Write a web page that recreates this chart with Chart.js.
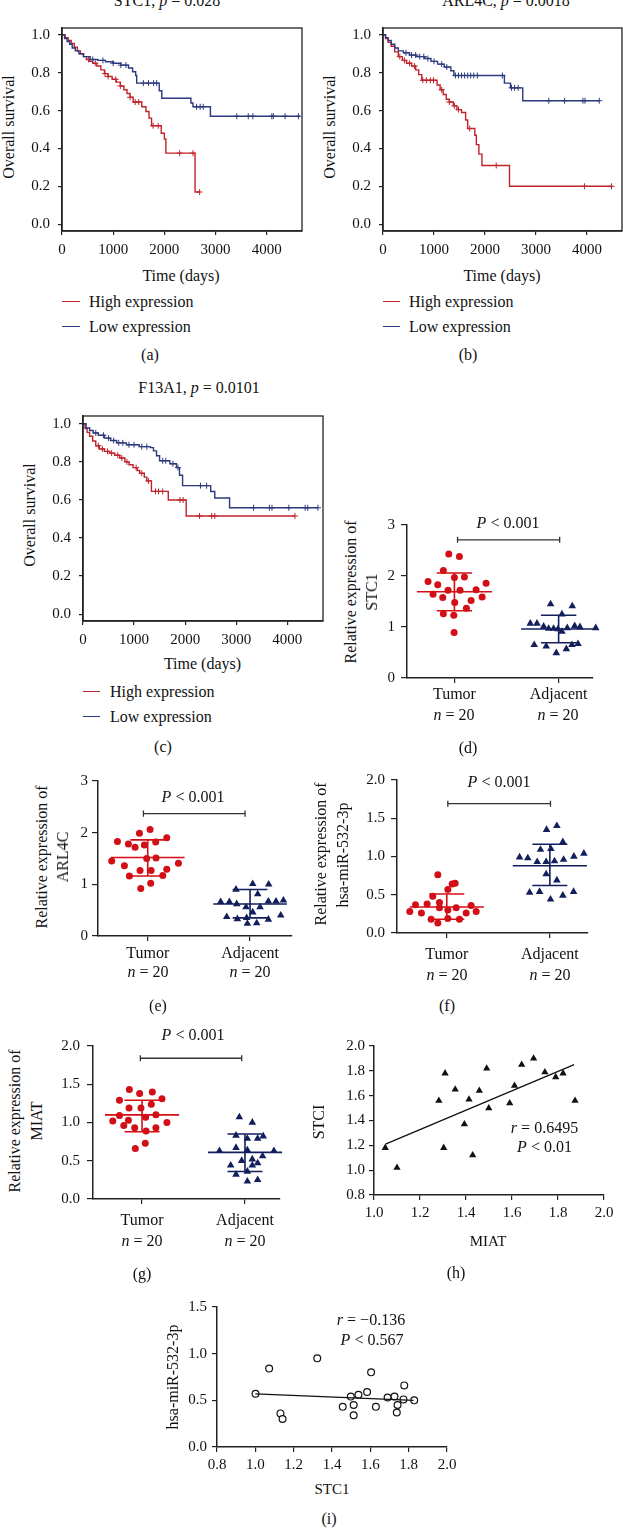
<!DOCTYPE html>
<html><head><meta charset="utf-8">
<script src="https://cdn.jsdelivr.net/npm/chart.js@4.4.1/dist/chart.umd.min.js"></script>
<style>
html,body{margin:0;padding:0;background:#fff;}
body{width:623px;height:1528px;position:relative;overflow:hidden;font-family:'Liberation Serif','Times New Roman',serif;color:#111;}
canvas{position:absolute;}
.t{position:absolute;white-space:nowrap;transform:translate(-50%,-50%);font-size:16px;line-height:1;}
.t.r{transform:translate(-50%,-50%) rotate(-90deg);}
.l{position:absolute;white-space:nowrap;font-size:16px;line-height:1;transform:translateY(-50%);}
.lg{position:absolute;height:0;border-top:1.6px solid;}
</style></head><body>
<script>
// ---------------- DATA ----------------
// Kaplan-Meier (a) STC1
const aHighTime = [0,60,120,180,240,300,360,420,480,540,600,680,760,830,900,980,1060,1140,1210,1270,1330,1390,1560,1640,1700,1750,1940,2000,2030,2600,2690];
const aHighSurv = [1.0,0.985,0.97,0.955,0.935,0.915,0.90,0.885,0.87,0.86,0.85,0.835,0.815,0.795,0.78,0.765,0.75,0.73,0.71,0.69,0.67,0.645,0.62,0.595,0.56,0.52,0.48,0.45,0.375,0.17,0.17];
const aHighCens = [520,650,840,900,1050,1140,1330,1430,1500,1780,1880,2300,2560,2690];
const aLowTime = [0,50,100,150,200,260,330,420,550,700,850,1000,1150,1300,1380,1440,1460,1900,1950,2520,2560,2900,4650];
const aLowSurv = [1.0,0.98,0.965,0.95,0.93,0.915,0.90,0.885,0.87,0.865,0.858,0.85,0.84,0.825,0.805,0.785,0.745,0.705,0.665,0.64,0.62,0.57,0.57];
const aLowCens = [600,800,1000,1150,1250,1590,1690,1790,1850,2630,2700,2760,3415,3640,3730,4100,4130,4360,4620];
// Kaplan-Meier (b) ARL4C
const bHighTime = [0,50,100,160,230,300,380,460,560,640,700,760,1060,1120,1180,1240,1300,1380,1450,1540,1620,1660,1800,1830,1880,1940,2480,4500];
const bHighSurv = [1.0,0.98,0.96,0.94,0.91,0.885,0.865,0.85,0.835,0.815,0.79,0.76,0.735,0.71,0.685,0.66,0.645,0.625,0.605,0.59,0.55,0.505,0.47,0.42,0.37,0.31,0.20,0.20];
const bHighCens = [330,420,520,620,780,850,930,990,1150,1300,1400,1480,1700,2220,3950,4480];
const bLowTime = [0,50,100,160,230,300,400,520,650,820,940,1070,1200,1330,1390,2380,2500,2740,4240];
const bLowSurv = [1.0,0.985,0.97,0.95,0.93,0.915,0.905,0.893,0.885,0.875,0.86,0.845,0.83,0.81,0.785,0.745,0.72,0.652,0.652];
const bLowCens = [450,560,640,720,800,880,1000,1150,1250,1420,1480,1540,1600,1660,1720,1780,1850,2340,2520,2580,2650,3250,3560,3920,3960,4240];
// Kaplan-Meier (c) F13A1
const cHighTime = [0,40,80,130,190,250,320,420,520,620,720,820,900,980,1060,1110,1200,1250,1340,1670,2020,4150];
const cHighSurv = [1.0,0.975,0.955,0.935,0.91,0.885,0.868,0.855,0.846,0.835,0.82,0.80,0.785,0.77,0.755,0.74,0.72,0.70,0.645,0.60,0.516,0.516];
const cHighCens = [300,380,480,560,680,760,860,1040,1150,1280,1420,1480,1560,1900,1960,2280,2520,2580,4150];
const cLowTime = [0,60,130,200,300,420,540,660,850,1100,1320,1380,1440,1500,1700,1830,1890,1950,2500,2580,2870,4600];
const cLowSurv = [1.0,0.978,0.965,0.952,0.94,0.925,0.912,0.90,0.89,0.88,0.875,0.858,0.832,0.806,0.79,0.77,0.73,0.675,0.644,0.61,0.559,0.559];
const cLowCens = [250,400,500,600,700,780,900,1000,1150,1250,1560,1620,1760,1860,2300,2420,3340,3650,3700,4030,4350,4400,4600];
const kmXTicks = [0,1000,2000,3000,4000];
const kmYTicks = [0,0.2,0.4,0.6,0.8,1.0];

// Dot plots (d)-(g)
const groups = ['Tumor','Adjacent'];
const groupTicks = [1,2];
// (d) STC1
const dTumorX = [0.946,1.048,0.894,1.0,1.096,0.747,0.840,1.304,0.939,1.054,1.208,0.795,0.888,1.160,1.266,1.003,1.115,0.894,0.994,0.997];
const dTumorY = [2.43,2.38,2.11,1.97,1.98,1.89,1.83,1.86,1.72,1.72,1.73,1.64,1.58,1.52,1.59,1.48,1.37,1.26,1.23,0.89];
const dAdjX = [1.923,2.131,2.032,1.728,1.792,1.856,1.904,1.952,2.032,2.083,2.154,2.205,2.356,1.766,1.881,1.978,2.074,2.128,2.186,1.994];
const dAdjY = [1.45,1.41,1.25,1.07,1.07,1.01,0.97,0.97,0.91,0.98,1.02,1.00,0.98,0.65,0.62,0.49,0.57,0.65,0.67,0.96];
const dMean = [1.69,0.96], dSdHi = [2.06,1.23], dSdLo = [1.32,0.69];
const dBracket = [1.03,2.01,2.71];
// (e) ARL4C
const eTumorX = [1.023,0.919,0.704,1.186,1.078,0.811,0.876,0.967,0.648,0.990,1.081,0.772,1.300,0.925,1.033,1.186,0.821,1.147,1.029,0.932];
const eTumorY = [2.06,1.99,1.83,1.90,1.82,1.78,1.72,1.76,1.45,1.50,1.51,1.36,1.41,1.27,1.27,1.29,1.16,1.17,1.02,0.92];
const eAdjX = [2.026,2.182,1.863,2.075,1.713,1.798,1.870,1.961,2.098,2.179,2.254,2.326,2.026,1.772,1.876,1.967,2.179,2.300,2.065,1.974];
const eAdjY = [1.01,1.00,0.90,0.81,0.66,0.66,0.62,0.56,0.56,0.67,0.67,0.69,0.46,0.37,0.33,0.35,0.32,0.40,0.25,0.24];
const eMean = [1.52,0.62], eSdHi = [1.86,0.90], eSdLo = [1.16,0.35];
const eBracket = [0.958,1.951,2.37];
const deYTicks = [0,1,2,3];
// (f) hsa-miR-532-3p
const fTumorX = [0.913,1.081,1.052,1.010,0.864,0.696,0.809,0.929,1.236,0.641,0.754,0.929,1.010,1.091,1.188,1.285,0.848,1.010,1.123,0.913];
const fTumorY = [0.76,0.65,0.64,0.57,0.48,0.37,0.38,0.40,0.36,0.28,0.26,0.33,0.30,0.33,0.26,0.28,0.18,0.19,0.18,0.13];
const fAdjX = [2.068,1.968,2.126,1.909,2.010,1.706,1.786,1.877,1.964,2.045,2.133,2.233,2.330,1.964,2.068,1.803,1.900,2.006,2.126,2.230];
const fAdjY = [1.40,1.35,1.19,1.09,1.10,0.99,0.98,0.93,0.93,0.94,0.96,1.00,1.04,0.77,0.69,0.53,0.54,0.44,0.49,0.54];
const fMean = [0.34,0.88], fSdHi = [0.51,1.16], fSdLo = [0.18,0.62];
const fBracket = [1.01,2.006,1.69];
// (g) MIAT
const gTumorX = [0.877,0.977,1.100,0.781,1.194,0.874,0.990,1.090,0.716,0.781,0.868,1.035,1.135,1.242,0.823,0.929,1.039,1.135,1.032,0.935];
const gTumorY = [1.43,1.38,1.40,1.29,1.31,1.19,1.19,1.24,1.02,1.09,1.03,1.07,1.10,1.00,0.96,0.93,0.89,0.93,0.73,0.66];
const gAdjX = [1.945,2.071,1.913,2.177,2.023,2.123,1.752,1.913,2.023,2.281,2.171,1.968,2.071,1.861,2.123,1.913,2.023,2.023,2.123,2.071];
const gAdjY = [1.07,1.00,0.83,0.82,0.79,0.79,0.63,0.67,0.64,0.63,0.56,0.50,0.52,0.44,0.47,0.32,0.36,0.23,0.25,0.44];
const gMean = [1.10,0.61], gSdHi = [1.29,0.85], gSdLo = [0.88,0.36];
const gBracket = [0.984,1.968,1.84];
const fgYTicks = [0,0.5,1.0,1.5,2.0];

// (h) MIAT vs STCI
const hMiat = [1.049,1.100,1.282,1.309,1.303,1.353,1.393,1.413,1.429,1.458,1.490,1.499,1.590,1.611,1.642,1.694,1.743,1.790,1.822,1.874];
const hStc1 = [1.18,1.02,1.56,1.78,1.18,1.65,1.37,1.57,1.12,1.64,1.82,1.50,1.54,1.68,1.85,1.90,1.79,1.75,1.78,1.56];
const hFitX = [1.05,1.87], hFitY = [1.21,1.85];
const hXTicks = [1.0,1.2,1.4,1.6,1.8,2.0];
const hYTicks = [0.8,1.0,1.2,1.4,1.6,1.8,2.0];
// (i) STC1 vs hsa-miR-532-3p
const iStc1 = [1.001,1.072,1.131,1.142,1.323,1.456,1.498,1.513,1.513,1.538,1.583,1.604,1.629,1.690,1.726,1.742,1.738,1.777,1.773,1.829];
const iMir = [0.57,0.84,0.36,0.30,0.95,0.43,0.54,0.45,0.34,0.56,0.59,0.80,0.43,0.53,0.54,0.45,0.37,0.66,0.51,0.50];
const iFitX = [1.0,1.826], iFitY = [0.57,0.50];
const iXTicks = [0.8,1.0,1.2,1.4,1.6,1.8,2.0];
const iYTicks = [0,0.5,1.0,1.5];

// ---------------- HELPERS ----------------
const FONT = "'Liberation Serif','Times New Roman',serif";
Chart.defaults.font.family = FONT;
Chart.defaults.color = '#111';
const KM_RED = '#c0232b', KM_BLUE = '#2b3a7c';
const RED = '#d20f16', NAVY = '#131f5c';

const xy = (X, Y) => X.map((x, i) => ({ x, y: Y[i] }));
function stepAt(T, S, t) { let s = S[0]; for (let i = 0; i < T.length; i++) { if (T[i] <= t) s = S[i]; else break; } return s; }

function txt(html, x, y, size, rot) {
  const d = document.createElement('div');
  d.className = 't' + (rot ? ' r' : '');
  d.innerHTML = html; d.style.left = x + 'px'; d.style.top = y + 'px';
  if (size) d.style.fontSize = size + 'px';
  document.body.appendChild(d);
}
function legendRow(x1, x2, y, color, label, tx) {
  const ln = document.createElement('div'); ln.className = 'lg';
  ln.style.left = x1 + 'px'; ln.style.top = (y - 0.8) + 'px'; ln.style.width = (x2 - x1) + 'px'; ln.style.borderColor = color;
  document.body.appendChild(ln);
  const d = document.createElement('div'); d.className = 'l'; d.textContent = label;
  d.style.left = tx + 'px'; d.style.top = y + 'px'; document.body.appendChild(d);
}

function axis(o) {
  return {
    type: 'linear', min: o.min, max: o.max,
    afterBuildTicks: s => { s.ticks = o.ticks.map(v => ({ value: v })); },
    afterFit: s => { if (o.h) s.height = o.size; else s.width = o.size; },
    ticks: { font: { size: o.fs, family: FONT }, color: '#111', padding: o.pad, maxRotation: 0, minRotation: 0, autoSkip: false, callback: o.fmt },
    grid: { display: true, drawOnChartArea: false, drawTicks: true, tickLength: o.tl, color: '#222', lineWidth: 1.2 },
    border: { display: true, color: '#222', width: 1.5 },
  };
}
const framePlugin = {
  id: 'frame',
  afterDatasetsDraw(chart) {
    const { ctx, chartArea: a } = chart;
    ctx.save(); ctx.strokeStyle = '#222'; ctx.lineWidth = 1.3;
    ctx.strokeRect(a.left, a.top, a.right - a.left, a.bottom - a.top); ctx.restore();
  }
};
function makeChart(area, g, xAx, yAx, datasets, frame) {
  const c = document.createElement('canvas');
  const W = area.r - area.l + g.yW + g.padR, H = area.b - area.t + g.padT + g.xH;
  c.width = W; c.height = H;
  c.style.left = (area.l - g.yW) + 'px'; c.style.top = (area.t - g.padT) + 'px';
  c.style.width = W + 'px'; c.style.height = H + 'px';
  document.body.appendChild(c);
  return new Chart(c, {
    type: 'line',
    data: { datasets },
    options: {
      responsive: false, maintainAspectRatio: false, animation: false, devicePixelRatio: 1, events: [],
      layout: { padding: { top: g.padT, right: g.padR, left: 0, bottom: 0 }, autoPadding: false },
      plugins: { legend: { display: false }, tooltip: { enabled: false } },
      scales: { x: xAx, y: yAx },
    },
    plugins: frame ? [framePlugin] : [],
  });
}
function kmLine(T, S, color) {
  return { data: xy(T, S), stepped: true, borderColor: color, borderWidth: 1.4, pointRadius: 0, fill: false };
}
function kmCens(C, T, S, color) {
  return { data: C.map(t => ({ x: t, y: stepAt(T, S, t) })), showLine: false, pointStyle: 'cross', pointRadius: 3, borderColor: color, borderWidth: 1, clip: false };
}
function dots(X, Y, style, color, r) {
  return { data: xy(X, Y), showLine: false, pointStyle: style, pointRadius: r, backgroundColor: color, borderColor: color, borderWidth: 0, clip: false };
}
function errBar(c, m, hi, lo, color) {
  return {
    data: [{ x: c - 0.36, y: m }, { x: c + 0.36, y: m }, { x: c, y: null },
           { x: c - 0.17, y: hi }, { x: c + 0.17, y: hi }, { x: c, y: null },
           { x: c - 0.17, y: lo }, { x: c + 0.17, y: lo }, { x: c, y: null },
           { x: c, y: hi }, { x: c, y: lo }],
    borderColor: color, borderWidth: 1.6, pointRadius: 0, spanGaps: false, clip: false
  };
}
function bracket(b, d) {
  const [x1, x2, y] = b;
  return {
    data: [{ x: x1, y: y + d }, { x: x1, y: y - d }, { x: x1, y: null }, { x: x1, y: y }, { x: x2, y: y }, { x: x2, y: null }, { x: x2, y: y + d }, { x: x2, y: y - d }],
    borderColor: '#333', borderWidth: 1.3, pointRadius: 0, spanGaps: false, clip: false
  };
}
function line2(X, Y) { return { data: xy(X, Y), borderColor: '#111', borderWidth: 1.3, pointRadius: 0, clip: false }; }

// ---------------- KM PANELS ----------------
const kmG = { yW: 45, xH: 32, padT: 12, padR: 14 };
const kmX = max => axis({ h: true, size: kmG.xH, min: 0, max, ticks: kmXTicks, fs: 15, tl: 4, pad: 6, fmt: v => String(v) });
const kmY = (min, max) => axis({ size: kmG.yW, min, max, ticks: kmYTicks, fs: 15, tl: 4, pad: 8, fmt: v => v.toFixed(1) });

makeChart({ l: 62, t: 23, r: 302, b: 231 }, kmG, kmX(4690), kmY(-0.036, 1.036), [
  kmLine(aLowTime, aLowSurv, KM_BLUE), kmCens(aLowCens, aLowTime, aLowSurv, KM_BLUE),
  kmLine(aHighTime, aHighSurv, KM_RED), kmCens(aHighCens, aHighTime, aHighSurv, KM_RED)], true);
makeChart({ l: 383, t: 23, r: 622, b: 231 }, kmG, kmX(4686), kmY(-0.036, 1.036), [
  kmLine(bLowTime, bLowSurv, KM_BLUE), kmCens(bLowCens, bLowTime, bLowSurv, KM_BLUE),
  kmLine(bHighTime, bHighSurv, KM_RED), kmCens(bHighCens, bHighTime, bHighSurv, KM_RED)], true);
makeChart({ l: 83, t: 411, r: 323, b: 621 }, kmG, kmX(4699), kmY(-0.036, 1.041), [
  kmLine(cLowTime, cLowSurv, KM_BLUE), kmCens(cLowCens, cLowTime, cLowSurv, KM_BLUE),
  kmLine(cHighTime, cHighSurv, KM_RED), kmCens(cHighCens, cHighTime, cHighSurv, KM_RED)], true);

txt('STC1, <i>p</i> = 0.028', 167, 1);
txt('ARL4C, <i>p</i> = 0.0018', 506, 1);
txt('F13A1, <i>p</i> = 0.0101', 199, 388);
txt('Overall survival', 8.5, 127, 16, true);
txt('Overall survival', 329.5, 127, 16, true);
txt('Overall survival', 30, 515, 16, true);
txt('Time (days)', 181, 276);
txt('Time (days)', 502, 276);
txt('Time (days)', 202.5, 664);
legendRow(62, 80, 302, KM_RED, 'High expression', 89);
legendRow(62, 80, 327, KM_BLUE, 'Low expression', 89);
legendRow(383, 400, 302, KM_RED, 'High expression', 409);
legendRow(383, 400, 327, KM_BLUE, 'Low expression', 409);
legendRow(83, 100, 692, KM_RED, 'High expression', 110);
legendRow(83, 100, 717, KM_BLUE, 'Low expression', 110);

// ---------------- DOT PLOTS ----------------
const dotG = { yW: 40, xH: 34, padT: 12, padR: 22 };
const catX = (min, max, pad) => axis({ h: true, size: dotG.xH, min, max, ticks: groupTicks, fs: 16, tl: 5, pad, fmt: v => groups[v - 1] });
const valY = (max, ticks, fmt, pad) => axis({ size: dotG.yW, min: 0, max, ticks, fs: 15, tl: 6, pad, fmt });
const intFmt = v => String(v), oneFmt = v => v.toFixed(1);

makeChart({ l: 407, t: 522, r: 593, b: 678 }, dotG, catX(0.545, 2.33, 2), valY(3, deYTicks, intFmt, 6), [
  errBar(1, dMean[0], dSdHi[0], dSdLo[0], RED), errBar(2, dMean[1], dSdHi[1], dSdLo[1], NAVY),
  dots(dTumorX, dTumorY, 'circle', RED, 3.5), dots(dAdjX, dAdjY, 'triangle', NAVY, 4.4), bracket(dBracket, 0.06)]);
makeChart({ l: 98, t: 780, r: 292, b: 936 }, dotG, catX(0.514, 2.41, 3), valY(3, deYTicks, intFmt, 4), [
  errBar(1, eMean[0], eSdHi[0], eSdLo[0], RED), errBar(2, eMean[1], eSdHi[1], eSdLo[1], NAVY),
  dots(eTumorX, eTumorY, 'circle', RED, 3.5), dots(eAdjX, eAdjY, 'triangle', NAVY, 4.4), bracket(eBracket, 0.06)]);
makeChart({ l: 397, t: 777, r: 588, b: 933 }, dotG, catX(0.517, 2.37, 7), valY(2, fgYTicks, oneFmt, 6), [
  errBar(1, fMean[0], fSdHi[0], fSdLo[0], RED), errBar(2, fMean[1], fSdHi[1], fSdLo[1], NAVY),
  dots(fTumorX, fTumorY, 'circle', RED, 3.5), dots(fAdjX, fAdjY, 'triangle', NAVY, 4.4), bracket(fBracket, 0.04)]);
makeChart({ l: 93, t: 1042, r: 280, b: 1199 }, dotG, catX(0.524, 2.34, 7), valY(2, fgYTicks, oneFmt, 7), [
  errBar(1, gMean[0], gSdHi[0], gSdLo[0], RED), errBar(2, gMean[1], gSdHi[1], gSdLo[1], NAVY),
  dots(gTumorX, gTumorY, 'circle', RED, 3.5), dots(gAdjX, gAdjY, 'triangle', NAVY, 4.4), bracket(gBracket, 0.04)]);

txt('<i>P</i> &lt; 0.001', 508, 523);
txt('Relative expression of', 351, 592, 16, true);
txt('STC1', 372, 592, 16, true);
txt('<i>n</i> = 20', 454, 715); txt('<i>n</i> = 20', 558, 715);

txt('<i>P</i> &lt; 0.001', 193, 797);
txt('Relative expression of', 42, 857, 16, true);
txt('ARL4C', 63, 857, 16, true);
txt('<i>n</i> = 20', 148, 972); txt('<i>n</i> = 20', 250, 972);

txt('<i>P</i> &lt; 0.001', 499, 782);
txt('Relative expression of', 321, 854, 16, true);
txt('hsa-miR-532-3p', 343, 855, 16, true);
txt('<i>n</i> = 20', 447, 975); txt('<i>n</i> = 20', 550, 975);

txt('<i>P</i> &lt; 0.001', 193, 1035);
txt('Relative expression of', 15, 1121, 16, true);
txt('MIAT', 37, 1121, 16, true);
txt('<i>n</i> = 20', 142, 1241); txt('<i>n</i> = 20', 245, 1241);

// ---------------- CORRELATION PANELS ----------------
const scG = { yW: 40, xH: 30, padT: 12, padR: 14 };
makeChart({ l: 374, t: 1045, r: 604, b: 1195 }, scG,
  axis({ h: true, size: scG.xH, min: 1.0, max: 2.0, ticks: hXTicks, fs: 15, tl: 5, pad: 4, fmt: oneFmt }),
  axis({ size: scG.yW, min: 0.8, max: 2.0, ticks: hYTicks, fs: 15, tl: 5, pad: 4, fmt: oneFmt }), [
  line2(hFitX, hFitY), dots(hMiat, hStc1, 'triangle', '#111', 4.2)]);
makeChart({ l: 217, t: 1305, r: 447, b: 1447 }, scG,
  axis({ h: true, size: scG.xH, min: 0.8, max: 2.0, ticks: iXTicks, fs: 15, tl: 5, pad: 4, fmt: oneFmt }),
  axis({ size: scG.yW, min: 0, max: 1.5, ticks: iYTicks, fs: 15, tl: 5, pad: 5, fmt: oneFmt }), [
  line2(iFitX, iFitY),
  { data: xy(iStc1, iMir), showLine: false, pointStyle: 'circle', pointRadius: 3.4, backgroundColor: '#fff', borderColor: '#111', borderWidth: 1.2, clip: false }]);

txt('STCI', 319, 1122, 16, true);
txt('MIAT', 488, 1241, 15);
txt('<i>r</i> = 0.6495', 544.5, 1128);
txt('<i>P</i> &lt; 0.01', 544.5, 1147);
txt('hsa-miR-532-3p', 173, 1377, 16, true);
txt('STC1', 332, 1489, 15);
txt('<i>r</i> = &minus;0.136', 371, 1320);
txt('<i>P</i> &lt; 0.567', 372, 1340);

// ---------------- PANEL LABELS ----------------
txt('(a)', 150, 355); txt('(b)', 468, 355);
txt('(c)', 163, 747); txt('(d)', 468, 748);
txt('(e)', 158, 1006); txt('(f)', 447, 1006);
txt('(g)', 142, 1274); txt('(h)', 456, 1273);
txt('(i)', 329, 1519);
</script>
</body></html>
